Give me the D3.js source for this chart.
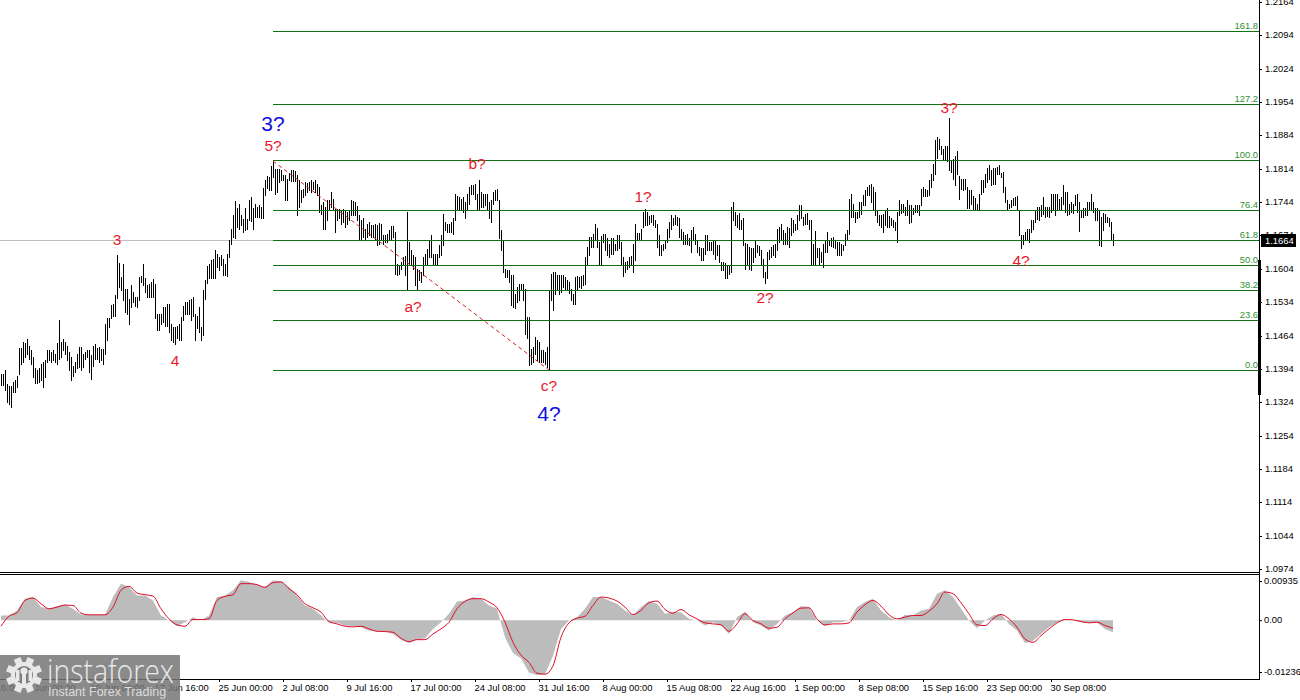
<!DOCTYPE html>
<html>
<head>
<meta charset="utf-8">
<script src="https://d3js.org/d3.v7.min.js"></script>
<style>
  body { margin: 0; background: #fff; }
  svg { display: block; }
  text { font-family: "Liberation Sans", Arial, sans-serif; }
  .axis text { font-size: 9.4px; fill: #000; }
  .axis path { display: none; }
  .axis line { stroke: #000; }
</style>
</head>
<body>
<div id="viz"></div>
<script>
// prices are in 1/10000, one pair of highs/lows per 4h bar
const highs = [
11384,11384,11391,11363,11359,11359,11366,11370,11380,11437,11437,11450,11448,11456,11443,11433,11419,11395,11391,11395,
11405,11408,11412,11434,11433,11430,11434,11426,11448,11496,11450,11457,11450,11443,11430,11419,11401,11408,11426,11439,
11439,11426,11430,11433,11433,11423,11443,11447,11437,11440,11436,11436,11489,11500,11500,11528,11530,11549,11633,11616,
11587,11615,11562,11562,11541,11570,11555,11545,11545,11587,11588,11615,11585,11570,11573,11577,11582,11573,11510,11510,
11510,11524,11524,11531,11531,11489,11482,11482,11485,11489,11503,11525,11534,11534,11538,11540,11545,11510,11506,11524,
11482,11559,11580,11610,11615,11622,11625,11643,11635,11629,11632,11625,11615,11636,11665,11688,11716,11746,11731,11741,
11716,11709,11731,11709,11748,11754,11731,11741,11734,11738,11734,11773,11790,11798,11797,11820,11830,11814,11814,11813,
11811,11800,11800,11793,11805,11811,11811,11810,11800,11790,
11769,11772,11787,11784,11787,11790,11787,11791,11783,11776,11737,11744,11734,11748,11749,11765,11751,11730,11730,11730,
11728,11730,11727,11723,11727,11748,11746,11744,11735,11716,11706,11710,11688,11699,11702,11695,11695,11699,11695,11700,
11699,11675,11675,11678,11685,11693,11693,11681,11615,11611,11618,11629,11630,11723,11660,11643,11632,11629,11604,11601,
11597,11629,11636,11646,11664,11675,11636,11636,11636,11654,11675,11719,11702,11699,11699,11702,11710,11762,11756,11755,
11751,11755,11744,11762,11776,11780,11780,11781,11762,11790,11765,11762,11762,11762,11744,11748,11765,11770,11771,11749,
11685,11664,11604,11601,11601,11590,11590,11552,11566,11573,11573,11573,11562,11503,11503,11436,11440,11461,11454,11451,
11433,11433,11430,11440,11559,11594,11597,11597,11590,11590,11590,11590,11587,11580,11577,
11562,11552,11587,11588,11587,11588,11590,11629,11650,11670,11670,11678,11699,11689,11660,11672,11678,11678,11668,11657,
11668,11668,11657,11676,11675,11660,11629,11618,11621,11629,11631,11657,11699,11679,11679,11688,11723,11730,11723,11714,
11716,11716,11706,11699,11675,11654,11656,11665,11688,11702,11716,11710,11716,11713,11710,11688,11681,11675,11678,11668,
11685,11692,11678,11664,11650,11647,11647,11675,11675,11660,11660,11664,11664,11654,11654,11618,11618,11616,11611,11611,
11734,11744,11723,11716,11721,11707,11710,11658,11657,11650,11647,11647,11665,11654,11651,11643,11625,11597,11640,11643,
11650,11654,11656,11688,11691,11699,11685,11679,11691,11689,11710,11706,11699,11716,11737,11737,11713,11719,11721,11707,
11707,11656,11684,11647,11647,11640,11657,11665,11681,11665,11668,11671,11664,11660,11660,11657,11655,11678,11685,11751,
11761,11741,11723,11723,11744,
11745,11759,11769,11776,11780,11781,11776,11766,11727,11717,11717,11720,11728,11731,11714,11710,11706,11703,11724,11748,
11741,11741,11734,11748,11738,11738,11731,11738,11738,11738,11772,11775,11772,11769,11790,11804,11825,11874,11880,11877,
11861,11856,11861,11861,11920,11832,11835,11840,11851,11798,11793,11793,11793,11776,11769,11769,11756,11752,11741,11762,
11791,11791,11804,11815,11822,11811,11815,11815,11818,11822,11805,11807,11775,11748,11741,11749,11753,11755,11756,11727,
11674,11674,11681,11688,11688,11706,11707,11727,11734,11734,11738,11755,11734,11733,11733,11762,11762,11762,11762,11751,
11755,11780,11765,11765,11741,11745,11741,11759,11761,11745,11726,11731,11731,11745,11745,11761,11745,11731,11732,11727,
11713,11722,11719,11713,11711,11703,11678
];
const lows = [
11360,11360,11349,11325,11321,11313,11345,11345,11356,11384,11405,11408,11419,11426,11415,11405,11377,11364,11364,11367,
11370,11356,11377,11408,11412,11408,11412,11408,11405,11415,11419,11433,11426,11412,11391,11371,11380,11387,11395,11398,
11391,11398,11415,11419,11388,11373,11401,11415,11415,11408,11412,11405,11426,11454,11482,11500,11506,11506,11542,11566,
11559,11538,11513,11510,11489,11524,11534,11527,11524,11538,11576,11570,11555,11545,11545,11545,11545,11500,11475,11475,
11488,11492,11485,11485,11472,11454,11450,11447,11458,11454,11455,11496,11510,11510,11510,11496,11506,11455,11479,11472,
11454,11465,11540,11574,11584,11584,11584,11584,11608,11601,11611,11590,11590,11589,11628,11656,11671,11668,11692,11688,
11695,11681,11685,11688,11706,11705,11688,11713,11713,11713,11710,11710,11759,11773,11769,11769,11797,11762,11765,11786,
11790,11790,11748,11748,11790,11789,11789,11789,11716,11734,
11744,11755,11758,11765,11769,11765,11772,11765,11758,11724,11720,11688,11688,11706,11730,11734,11727,11681,11706,11710,
11699,11702,11691,11699,11706,11716,11716,11716,11706,11664,11664,11671,11664,11671,11675,11671,11671,11664,11654,11657,
11664,11657,11660,11660,11664,11667,11671,11594,11590,11594,11604,11611,11590,11562,11615,11611,11604,11570,11559,11580,
11577,11590,11611,11615,11629,11629,11615,11615,11614,11629,11632,11654,11685,11681,11681,11681,11678,11706,11730,11730,
11727,11724,11710,11730,11741,11762,11762,11751,11730,11730,11734,11734,11737,11730,11710,11703,11741,11748,11748,11668,
11643,11598,11586,11586,11577,11528,11524,11521,11535,11538,11559,11538,11468,11458,11402,11405,11408,11426,11412,11408,
11408,11408,11405,11398,11391,11538,11517,11552,11559,11552,11555,11566,11559,11562,11553,
11538,11530,11531,11559,11566,11563,11570,11573,11611,11632,11650,11650,11664,11650,11611,11615,11660,11643,11632,11629,
11636,11636,11643,11643,11647,11611,11589,11597,11604,11608,11611,11597,11622,11664,11665,11667,11692,11695,11695,11699,
11702,11695,11692,11650,11632,11632,11643,11647,11660,11671,11688,11695,11699,11695,11671,11665,11657,11657,11657,11654,
11640,11664,11657,11640,11632,11622,11622,11636,11643,11643,11643,11636,11625,11632,11618,11601,11601,11584,11584,11594,
11597,11706,11695,11692,11688,11688,11654,11604,11615,11604,11601,11618,11629,11640,11632,11611,11587,11574,11584,11625,
11629,11632,11629,11643,11660,11667,11657,11657,11657,11650,11675,11681,11685,11688,11706,11710,11695,11699,11699,11688,
11611,11611,11611,11629,11611,11618,11608,11640,11640,11654,11651,11650,11647,11632,11632,11632,11643,11654,11664,11678,
11713,11713,11702,11710,11712,
11720,11738,11738,11759,11759,11745,11727,11717,11703,11696,11692,11682,11696,11692,11692,11696,11692,11685,11660,11717,
11721,11724,11717,11717,11700,11703,11720,11724,11724,11717,11738,11756,11756,11756,11759,11776,11790,11804,11836,11856,
11846,11832,11832,11831,11811,11807,11793,11780,11804,11751,11772,11770,11772,11731,11731,11741,11727,11727,11727,11727,
11762,11766,11776,11787,11793,11780,11783,11783,11804,11804,11796,11766,11745,11727,11731,11734,11738,11738,11727,11675,
11647,11657,11664,11664,11660,11681,11688,11703,11709,11706,11714,11719,11713,11714,11713,11723,11730,11717,11730,11730,
11730,11741,11723,11717,11719,11723,11721,11738,11723,11684,11713,11713,11717,11717,11727,11728,11723,11707,11706,11653,
11652,11685,11703,11703,11694,11664,11655
];
// macd panel, in 1/100000, one value every 4 bars
const macdHist = [
112,112,232,512,552,312,272,336,376,272,128,128,128,128,552,872,792,592,592,472,112,-8,-144,-48,72,-8,112,552,592,712,
952,912,848,792,952,928,792,592,352,272,112,-64,-64,-128,-144,-168,-248,-272,-272,-328,-464,-544,-464,-432,-208,-48,
152,448,472,552,512,352,272,-408,-784,-912,-1248,-1312,-1288,-848,-208,-8,72,272,552,552,472,392,232,112,312,456,392,152,192,192,
32,-8,-128,-48,-128,-328,72,208,-48,-128,-248,-88,112,192,336,312,-8,-144,-48,-48,-8,312,432,
512,232,72,-8,128,112,232,272,632,712,552,272,-8,-192,-8,112,152,-88,-248,-544,-488,-328,-168,-48,-8,-8,-48,-64,-64,-208,-288
];
const macdSignal = [
-144,96,176,472,528,392,272,312,360,352,168,128,128,128,312,712,808,648,608,576,272,32,-112,-144,16,16,32,472,568,608,
872,872,848,784,896,912,752,608,392,296,192,-32,-88,-144,-160,-144,-208,-264,-272,-288,-432,-512,-464,-464,-328,-208,
-48,272,448,512,512,432,296,-48,-528,-832,-1008,-1264,-1288,-1088,-408,-64,48,96,352,552,528,456,312,136,232,416,456,256,168,256,
128,32,-64,-88,-112,-264,-88,152,-8,-88,-192,-168,32,176,288,296,32,-112,-88,-88,-64,192,368,
472,336,128,32,72,112,112,216,392,672,632,416,152,-112,-128,32,136,32,-168,-448,-528,-368,-208,-64,16,8,-32,-64,-48,-128,-192
];

const priceTicks = [12164,12094,12024,11954,11884,11814,11744,11674,11604,11534,11464,11394,11324,11254,11184,11114,11044,10974];
const macdTicks = [935,0,-1236];
const timeBars = [-19,13,45,77,109,141,173,205,237,269,301,333,365,397,429,461,493,525];
const timeLabels = ["26 May 16:00","3 Jun 00:00","10 Jun 08:00","17 Jun 16:00","25 Jun 00:00","2 Jul 08:00","9 Jul 16:00","17 Jul 00:00",
  "24 Jul 08:00","31 Jul 16:00","8 Aug 00:00","15 Aug 08:00","22 Aug 16:00","1 Sep 00:00","8 Sep 08:00","15 Sep 16:00","23 Sep 00:00","30 Sep 08:00"];

const fibNames = ["161.8","127.2","100.0","76.4","61.8","50.0","38.2","23.6","0.0"];
const fibPrices = [12103,11949,11832,11727,11664,11611,11559,11496,11391];
const lastPrice = 11664;
const rangeBar = [11622,11339];

// wave labels: bar index, price under the text baseline
const waves = [
  {t:"3",   bar:58,  p:11654, c:"#e8192c", s:15.5},
  {t:"4",   bar:87,  p:11400, c:"#e8192c", s:15.5},
  {t:"5?",  bar:136, p:11851, c:"#e8192c", s:15.5},
  {t:"3?",  bar:136, p:11893, c:"#1010e0", s:21},
  {t:"a?",  bar:206, p:11514, c:"#e8192c", s:15.5},
  {t:"b?",  bar:238, p:11814, c:"#e8192c", s:15.5},
  {t:"c?",  bar:274, p:11348, c:"#e8192c", s:15.5},
  {t:"4?",  bar:274, p:11284, c:"#1010e0", s:21},
  {t:"1?",  bar:321, p:11745, c:"#e8192c", s:15.5},
  {t:"2?",  bar:382, p:11532, c:"#e8192c", s:15.5},
  {t:"3?",  bar:474, p:11932, c:"#e8192c", s:15.5},
  {t:"4?",  bar:510, p:11610, c:"#e8192c", s:15.5}
];

const svg = d3.select("#viz").append("svg").attr("width", 1300).attr("height", 700);

const axisX = 1259;
const x = d3.scaleLinear().domain([0, 1]).range([1, 3]);
const y = d3.scaleLinear().domain([12164, 10974]).rangeRound([2, 569]);
const macdY = d3.scaleLinear().domain([935, -1236]).range([581, 672]);

// last price line behind the bars
svg.append("line").attr("x1", 0).attr("x2", axisX)
  .attr("y1", y(lastPrice) + .5).attr("y2", y(lastPrice) + .5)
  .attr("stroke", "#c0c0c0");

// bars
svg.append("g").selectAll("rect").data(highs).enter().append("rect")
  .attr("x", (d, i) => x(i))
  .attr("y", d => y(d))
  .attr("width", 1)
  .attr("height", (d, i) => y(lows[i]) - y(d) + 1)
  .attr("fill", "#000")
  .attr("shape-rendering", "crispEdges");

// fibo levels
const fibG = svg.append("g");
fibG.selectAll("line").data(fibPrices).enter().append("line")
  .attr("x1", x(136)).attr("x2", axisX)
  .attr("y1", d => y(d) + .5).attr("y2", d => y(d) + .5)
  .attr("stroke", "#147014");
fibG.selectAll("text").data(fibPrices).enter().append("text")
  .attr("x", axisX - 1)
  .attr("y", d => y(d) - 2)
  .attr("text-anchor", "end")
  .attr("font-size", 9.4)
  .attr("fill", "#2f8f2f")
  .text((d, i) => fibNames[i]);

// dashed trend line of the fibo
svg.append("line")
  .attr("x1", x(136)).attr("y1", y(highs[136]))
  .attr("x2", x(274)).attr("y2", y(lows[274]))
  .attr("stroke", "#d22020").attr("stroke-dasharray", "4,3");

// wave counts
svg.append("g").selectAll("text").data(waves).enter().append("text")
  .attr("x", d => x(d.bar))
  .attr("y", d => y(d.p))
  .attr("text-anchor", "middle")
  .attr("font-size", d => d.s)
  .attr("fill", d => d.c)
  .text(d => d.t);

// macd panel
svg.append("path")
  .attr("d", d3.area().x((d, i) => x(i * 4)).y0(macdY(0)).y1(d => macdY(d))(macdHist))
  .attr("fill", "#bcbcbc");
svg.append("path")
  .attr("d", d3.line().x((d, i) => x(i * 4)).y(d => macdY(d)).curve(d3.curveMonotoneX)(macdSignal))
  .attr("fill", "none")
  .attr("stroke", "#e0102c")
  .attr("stroke-width", 1);

// frame
svg.append("line").attr("x1", 0).attr("x2", axisX).attr("y1", 572.5).attr("y2", 572.5).attr("stroke", "#000");
svg.append("line").attr("x1", 0).attr("x2", axisX).attr("y1", 574.5).attr("y2", 574.5).attr("stroke", "#000");
svg.append("line").attr("x1", 0).attr("x2", axisX).attr("y1", 679.5).attr("y2", 679.5).attr("stroke", "#000");
svg.append("line").attr("x1", axisX + .5).attr("x2", axisX + .5).attr("y1", 0).attr("y2", 680).attr("stroke", "#000");

// axes
svg.append("g").attr("class", "axis").attr("transform", `translate(${axisX},0)`)
  .call(d3.axisRight(y).tickValues(priceTicks).tickSize(3).tickPadding(3).tickFormat(d => (d / 10000).toFixed(4)))
  .selectAll("text").attr("dy", "0.22em");
svg.append("g").attr("class", "axis").attr("transform", `translate(${axisX},0)`)
  .call(d3.axisRight(macdY).tickValues(macdTicks).tickSize(3).tickPadding(2)
    .tickFormat(d => d === 0 ? "0.00" : (d / 100000).toFixed(5)))
  .selectAll("text").attr("dy", "0.22em");
svg.append("g").attr("class", "axis").attr("transform", "translate(0,679)")
  .call(d3.axisBottom(x).tickValues(timeBars).tickSize(3).tickPadding(2).tickFormat((d, i) => timeLabels[i]))
  .selectAll("text").attr("text-anchor", "start").attr("dx", -1);

// range marker on the axis and the last price tag
svg.append("rect").attr("x", axisX - 1).attr("width", 3)
  .attr("y", y(rangeBar[0])).attr("height", y(rangeBar[1]) - y(rangeBar[0]))
  .attr("fill", "#000");
svg.append("rect").attr("x", axisX + 2).attr("y", y(lastPrice) - 6).attr("width", 35).attr("height", 13).attr("fill", "#000");
svg.append("text").attr("x", axisX + 6).attr("y", y(lastPrice) + 4)
  .attr("font-size", 9.4).attr("fill", "#fff").text((lastPrice / 10000).toFixed(4));

// watermark
const mark = svg.append("g");
mark.append("rect").attr("x", 0).attr("y", 655).attr("width", 180).attr("height", 45)
  .attr("fill", "#767676").attr("opacity", .85);
const gear = mark.append("g").attr("transform", "translate(24,675)").attr("fill", "#e8e8e8");
gear.selectAll("rect").data(d3.range(8)).enter().append("rect")
  .attr("x", -3.5).attr("y", -18).attr("width", 7).attr("height", 8)
  .attr("transform", d => `rotate(${d * 45 + 22.5})`);
gear.append("circle").attr("r", 13);
gear.append("circle").attr("r", 9).attr("fill", "#7e7e7e");
gear.append("circle").attr("cy", -4).attr("r", 3.6);
gear.append("rect").attr("x", -2).attr("y", -3).attr("width", 4).attr("height", 16);
gear.append("rect").attr("x", -8).attr("y", -5).attr("width", 3.5).attr("height", 11);
gear.append("rect").attr("x", 4.5).attr("y", -5).attr("width", 3.5).attr("height", 11);
mark.append("text").attr("x", 47).attr("y", 683)
  .attr("font-size", 33).attr("fill", "#e8e8e8")
  .style("font-family", "'Open Sans', sans-serif").style("font-weight", 300)
  .attr("textLength", 127).attr("lengthAdjust", "spacingAndGlyphs")
  .text("instaforex");
mark.append("text").attr("x", 48).attr("y", 696)
  .attr("font-size", 12.5).attr("fill", "#dcdcdc")
  .text("Instant Forex Trading");
</script>
</body>
</html>
